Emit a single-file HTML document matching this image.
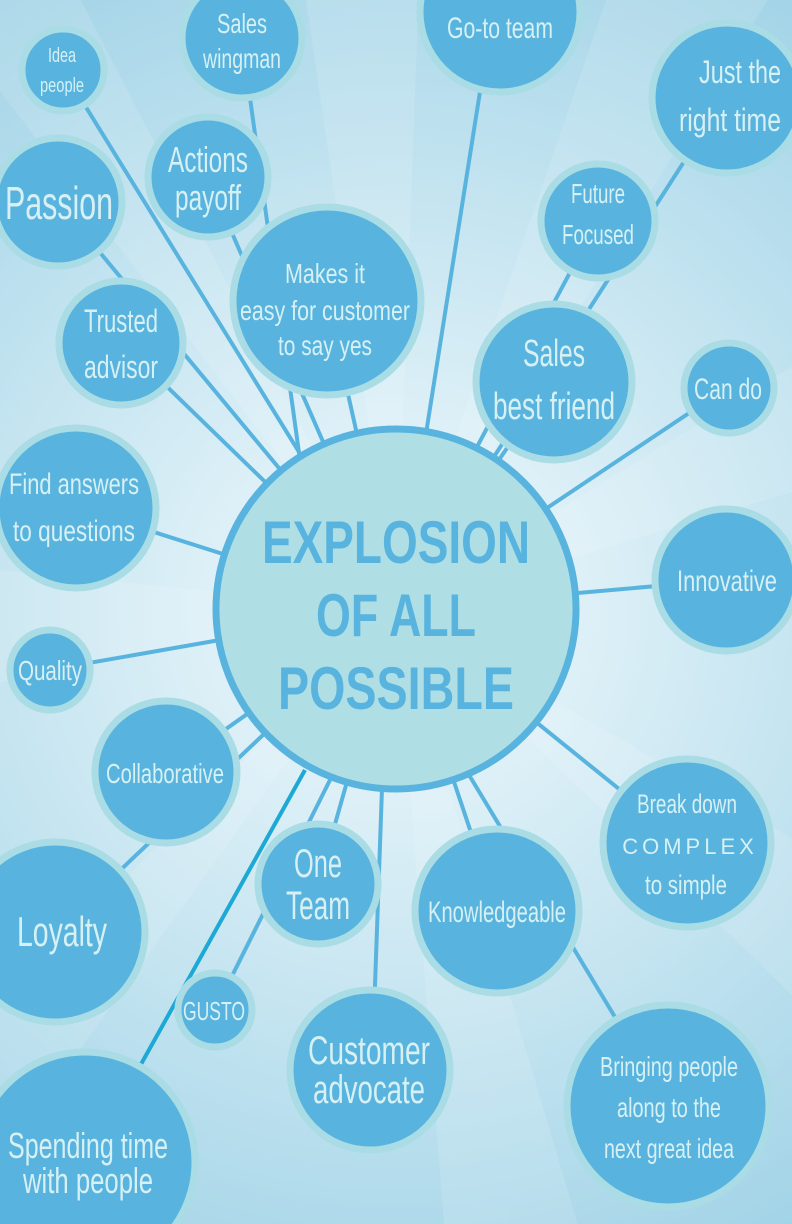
<!DOCTYPE html>
<html><head><meta charset="utf-8"><style>
html,body{margin:0;padding:0;width:792px;height:1224px;overflow:hidden}
svg{display:block;overflow:hidden}
text{font-family:"Liberation Sans Narrow","Liberation Sans",sans-serif;fill:#d6f0f4;text-anchor:middle}
</style></head><body>
<svg width="792" height="1224" viewBox="0 0 792 1224" xmlns="http://www.w3.org/2000/svg">
<defs>
<radialGradient id="bg" cx="396" cy="610" r="760" gradientUnits="userSpaceOnUse">
<stop offset="0" stop-color="#f2f9fc"/><stop offset="0.35" stop-color="#d5ecf5"/><stop offset="1" stop-color="#9fd2e6"/>
</radialGradient>
<clipPath id="c"><rect width="792" height="1224"/></clipPath>
</defs>
<g clip-path="url(#c)">
<rect width="792" height="1224" fill="url(#bg)"/>
<g fill="#ffffff" opacity="0.12">
<polygon points="396,610 -100,-40 60,-40"/>
<polygon points="396,610 300,-40 420,-40"/>
<polygon points="396,610 620,-40 792,-40"/>
<polygon points="396,610 900,300 900,460"/>
<polygon points="396,610 900,900 900,1100"/>
<polygon points="396,610 450,1300 600,1300"/>
<polygon points="396,610 -100,1100 -100,1300"/>
<polygon points="396,610 -100,560 -100,700"/>
</g>
<g stroke="#58b4de" stroke-width="4" fill="none">
<line x1="396" y1="609" x2="63" y2="70"/>
<line x1="300" y1="460" x2="242" y2="40"/>
<line x1="425" y1="440" x2="485" y2="60"/>
<line x1="396" y1="609" x2="725" y2="98"/>
<line x1="396" y1="609" x2="208" y2="178"/>
<line x1="396" y1="609" x2="58" y2="202"/>
<line x1="470" y1="460" x2="598" y2="220"/>
<line x1="396" y1="609" x2="327" y2="300"/>
<line x1="396" y1="609" x2="121" y2="342"/>
<line x1="396" y1="609" x2="554" y2="380"/>
<line x1="396" y1="609" x2="728" y2="387"/>
<line x1="396" y1="609" x2="75" y2="507"/>
<line x1="396" y1="609" x2="725" y2="580"/>
<line x1="396" y1="609" x2="49" y2="670"/>
<line x1="396" y1="609" x2="165" y2="772"/>
<line x1="396" y1="609" x2="686" y2="843"/>
<line x1="396" y1="609" x2="318" y2="884"/>
<line x1="396" y1="609" x2="497" y2="910"/>
<line x1="396" y1="609" x2="55" y2="932"/>
<line x1="330" y1="780" x2="215" y2="1010"/>
<line x1="383" y1="760" x2="372" y2="1070"/>
<line x1="460" y1="760" x2="668" y2="1105"/>
</g>
<line x1="305" y1="770" x2="135" y2="1075" stroke="#1ea8d6" stroke-width="4"/>
<circle cx="396" cy="609" r="180" fill="#afdfe5" stroke="#58b4de" stroke-width="7"/>
<g fill="#58b4de" stroke="#a9dce4" stroke-width="7">
<circle cx="63" cy="70" r="41"/>
<circle cx="242" cy="38" r="60"/>
<circle cx="500" cy="12" r="80"/>
<circle cx="727" cy="98" r="75"/>
<circle cx="208" cy="177" r="60"/>
<circle cx="58" cy="202" r="64"/>
<circle cx="598" cy="221" r="57"/>
<circle cx="327" cy="301" r="94"/>
<circle cx="121" cy="343" r="62"/>
<circle cx="554" cy="382" r="78"/>
<circle cx="729" cy="388" r="45"/>
<circle cx="76" cy="508" r="80"/>
<circle cx="726" cy="580" r="71"/>
<circle cx="50" cy="670" r="40"/>
<circle cx="166" cy="772" r="71"/>
<circle cx="687" cy="843" r="84"/>
<circle cx="318" cy="884" r="60"/>
<circle cx="497" cy="911" r="82"/>
<circle cx="55" cy="932" r="90"/>
<circle cx="215" cy="1010" r="37"/>
<circle cx="370" cy="1070" r="80"/>
<circle cx="668" cy="1106" r="101"/>
<circle cx="85" cy="1162" r="110"/>
</g>
<g style="font-weight:bold">
<text x="396" y="563" font-size="60" textLength="268" lengthAdjust="spacingAndGlyphs" style="fill:#58b4de">EXPLOSION</text>
<text x="396" y="636" font-size="60" textLength="160" lengthAdjust="spacingAndGlyphs" style="fill:#58b4de">OF ALL</text>
<text x="396" y="709" font-size="60" textLength="236" lengthAdjust="spacingAndGlyphs" style="fill:#58b4de">POSSIBLE</text>
</g>
<g>
<text x="62" y="62" font-size="20" textLength="28" lengthAdjust="spacingAndGlyphs">Idea</text>
<text x="62" y="92" font-size="20" textLength="44" lengthAdjust="spacingAndGlyphs">people</text>
<text x="242" y="33" font-size="28" textLength="50" lengthAdjust="spacingAndGlyphs">Sales</text>
<text x="242" y="68" font-size="28" textLength="78" lengthAdjust="spacingAndGlyphs">wingman</text>
<text x="500" y="38" font-size="30" textLength="106" lengthAdjust="spacingAndGlyphs">Go-to team</text>
<text x="740" y="83" font-size="32" textLength="82" lengthAdjust="spacingAndGlyphs">Just the</text>
<text x="730" y="131" font-size="32" textLength="102" lengthAdjust="spacingAndGlyphs">right time</text>
<text x="208" y="172" font-size="36" textLength="80" lengthAdjust="spacingAndGlyphs">Actions</text>
<text x="208" y="210" font-size="36" textLength="66" lengthAdjust="spacingAndGlyphs">payoff</text>
<text x="59" y="219" font-size="46" textLength="108" lengthAdjust="spacingAndGlyphs">Passion</text>
<text x="598" y="203" font-size="28" textLength="54" lengthAdjust="spacingAndGlyphs">Future</text>
<text x="598" y="244" font-size="28" textLength="72" lengthAdjust="spacingAndGlyphs">Focused</text>
<text x="325" y="283" font-size="28" textLength="80" lengthAdjust="spacingAndGlyphs">Makes it</text>
<text x="325" y="320" font-size="28" textLength="170" lengthAdjust="spacingAndGlyphs">easy for customer</text>
<text x="325" y="355" font-size="28" textLength="94" lengthAdjust="spacingAndGlyphs">to say yes</text>
<text x="121" y="332" font-size="32" textLength="74" lengthAdjust="spacingAndGlyphs">Trusted</text>
<text x="121" y="378" font-size="32" textLength="74" lengthAdjust="spacingAndGlyphs">advisor</text>
<text x="554" y="366" font-size="38" textLength="62" lengthAdjust="spacingAndGlyphs">Sales</text>
<text x="554" y="419" font-size="38" textLength="122" lengthAdjust="spacingAndGlyphs">best friend</text>
<text x="728" y="399" font-size="30" textLength="68" lengthAdjust="spacingAndGlyphs">Can do</text>
<text x="74" y="494" font-size="30" textLength="130" lengthAdjust="spacingAndGlyphs">Find answers</text>
<text x="74" y="541" font-size="30" textLength="122" lengthAdjust="spacingAndGlyphs">to questions</text>
<text x="727" y="591" font-size="30" textLength="100" lengthAdjust="spacingAndGlyphs">Innovative</text>
<text x="50" y="680" font-size="28" textLength="64" lengthAdjust="spacingAndGlyphs">Quality</text>
<text x="165" y="783" font-size="28" textLength="118" lengthAdjust="spacingAndGlyphs">Collaborative</text>
<text x="687" y="813" font-size="27" textLength="100" lengthAdjust="spacingAndGlyphs">Break down</text>
<text x="690" y="854" font-size="22" letter-spacing="4">COMPLEX</text>
<text x="686" y="894" font-size="27" textLength="82" lengthAdjust="spacingAndGlyphs">to simple</text>
<text x="318" y="877" font-size="40" textLength="48" lengthAdjust="spacingAndGlyphs">One</text>
<text x="318" y="919" font-size="40" textLength="64" lengthAdjust="spacingAndGlyphs">Team</text>
<text x="497" y="922" font-size="30" textLength="138" lengthAdjust="spacingAndGlyphs">Knowledgeable</text>
<text x="62" y="946" font-size="42" textLength="90" lengthAdjust="spacingAndGlyphs">Loyalty</text>
<text x="214" y="1020" font-size="26" textLength="62" lengthAdjust="spacingAndGlyphs">GUSTO</text>
<text x="369" y="1064" font-size="40" textLength="122" lengthAdjust="spacingAndGlyphs">Customer</text>
<text x="369" y="1103" font-size="40" textLength="112" lengthAdjust="spacingAndGlyphs">advocate</text>
<text x="669" y="1076" font-size="28" textLength="138" lengthAdjust="spacingAndGlyphs">Bringing people</text>
<text x="669" y="1117" font-size="28" textLength="104" lengthAdjust="spacingAndGlyphs">along to the</text>
<text x="669" y="1158" font-size="28" textLength="130" lengthAdjust="spacingAndGlyphs">next great idea</text>
<text x="88" y="1158" font-size="36" textLength="160" lengthAdjust="spacingAndGlyphs">Spending time</text>
<text x="88" y="1193" font-size="36" textLength="130" lengthAdjust="spacingAndGlyphs">with people</text>
</g>
</g>
</svg>
</body></html>
